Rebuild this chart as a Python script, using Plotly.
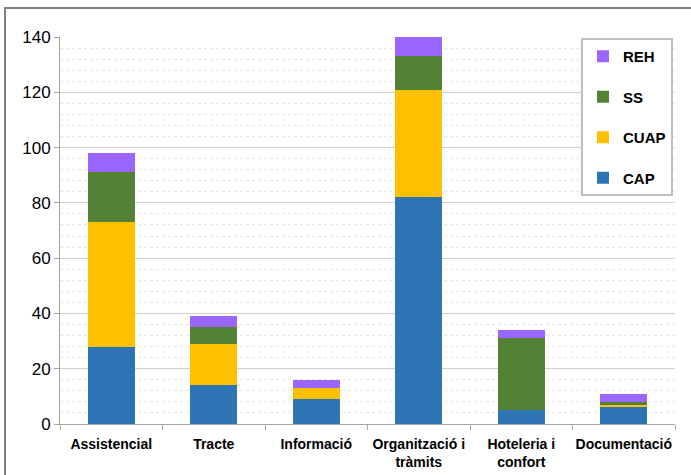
import plotly.graph_objects as go

categories = ["Assistencial", "Tracte", "Informació", "Organització i<br>tràmits", "Hoteleria i<br>confort", "Documentació"]
cap = [28, 14, 9, 82, 5, 6]
cuap = [45, 15, 4, 39, 0, 1]
ss = [18, 6, 0, 12, 26, 1]
reh = [7, 4, 3, 7, 3, 3]

series = [("CAP", cap, "#2E75B6", 4), ("CUAP", cuap, "#FFC000", 3), ("SS", ss, "#548235", 2), ("REH", reh, "#9966FF", 1)]

fig = go.Figure()
for name, vals, col, rank in series:
    fig.add_trace(go.Bar(x=categories, y=vals, name=name, marker_color=col,
                         marker_line_width=0, legendgroup=name, legendrank=rank))

W, H = 691, 475
l, r, t, b = 60, 16, 37, 51
pw, ph = W - l - r, H - t - b

def px_x(x):
    return (x - l) / pw

def px_y(y):
    return (H - b - y) / ph

fig.update_layout(
    width=W, height=H,
    margin=dict(l=l, r=r, t=t, b=b, autoexpand=False),
    barmode="stack", bargap=0.54,
    plot_bgcolor="white", paper_bgcolor="white",
    font=dict(family="Liberation Sans", color="black"),
    showlegend=True,
    legend=dict(
        x=px_x(673), y=px_y(38), xanchor="right", yanchor="top",
        traceorder="grouped", tracegroupgap=18,
        bordercolor="#BFBFBF", borderwidth=2, bgcolor="white",
        font=dict(family="Liberation Sans", size=15, color="black", weight="bold"),
        itemwidth=30,
    ),
    shapes=[dict(type="rect", xref="paper", yref="paper",
                 x0=px_x(5), x1=px_x(760), y0=px_y(8), y1=px_y(520),
                 line=dict(color="#808080", width=2), layer="below")],
)
fig.update_yaxes(
    range=[0, 140], dtick=20, tickfont=dict(size=17, family="Liberation Sans"),
    showgrid=True, gridcolor="#CFCFCF", gridwidth=1,
    showline=True, linecolor="#A6A6A6", linewidth=1,
    ticks="outside", ticklen=5, tickcolor="#A6A6A6",
    minor=dict(dtick=4, showgrid=True, gridcolor="#E4E4E4", griddash="dot", gridwidth=1),
    zeroline=False,
)
fig.update_xaxes(
    tickfont=dict(size=14, family="Liberation Sans", weight="bold"),
    tickangle=0, ticklabelstandoff=7,
    showline=True, linecolor="#A6A6A6", linewidth=1,
    ticks="outside", ticklen=5, tickcolor="#A6A6A6", tickson="boundaries",
    showgrid=False,
)

fig.write_html("out.html", config={"displayModeBar": False},
               post_script="document.body.style.margin='0px';")
